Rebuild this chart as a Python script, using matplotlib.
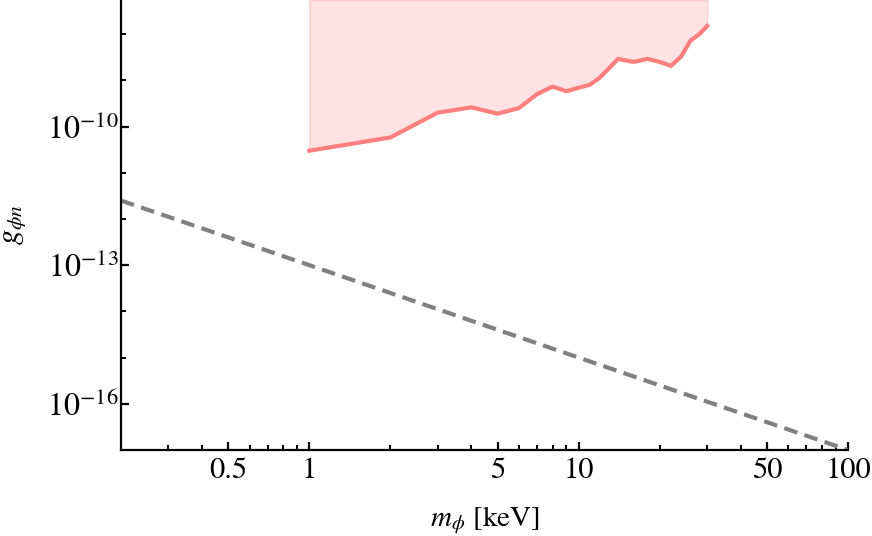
import matplotlib
matplotlib.use("Agg")
import matplotlib.pyplot as plt
import numpy as np
from matplotlib.ticker import FixedLocator, FixedFormatter, NullFormatter

plt.rcParams['font.family'] = ['STIXGeneral', 'DejaVu Serif']
plt.rcParams['mathtext.fontset'] = 'stix'

# Data
limit_m = [1.0, 2.0, 3.0, 4.0, 5.0, 6.0, 7.0, 8.0, 9.0, 10.0, 11.0, 12.0,
           14.0, 16.0, 18.0, 20.0, 22.0, 24.0, 26.0, 28.0, 30.0]
limit_g = [3.0e-11, 5.8e-11, 2.0e-10, 2.6e-10, 1.9e-10, 2.5e-10, 5.0e-10, 7.3e-10,
           5.8e-10, 6.9e-10, 8.0e-10, 1.15e-9, 2.9e-9, 2.5e-9, 2.9e-9, 2.5e-9,
           2.05e-9, 3.25e-9, 7.2e-9, 9.9e-9, 1.5e-8]
dash_m = [0.2, 100.0]
dash_g = [2.5e-12, 1.0e-17]

x_major = [0.5, 1, 5, 10, 50, 100]
x_major_labels = ["0.5", "1", "5", "10", "50", "100"]
y_major = [1e-16, 1e-13, 1e-10]
y_major_labels = [r"$10^{-16}$", r"$10^{-13}$", r"$10^{-10}$"]

xlim = (0.2, 100)
ylim = (1e-17, 10 ** -7.262)

fig = plt.figure(figsize=(8.72, 5.36), dpi=100)
ax = fig.add_axes([121 / 872, 1 - 450 / 536, (848 - 121) / 872, 450 / 536])
ax.set_xscale('log')
ax.set_yscale('log')
ax.set_xlim(*xlim)
ax.set_ylim(*ylim)

ax.fill_between(limit_m, limit_g, ylim[1], facecolor='#FFE2E4', edgecolor='#FFCDD1',
                linewidth=1.0, zorder=1)
ax.plot(limit_m, limit_g, color='#FF7E7E', linewidth=3.0, zorder=3,
        solid_joinstyle='round')
ax.plot(dash_m, dash_g, color='#808080', linewidth=3.0, dashes=(3.3, 1.8), zorder=2)

for s in ['top', 'right']:
    ax.spines[s].set_visible(False)
for s in ['left', 'bottom']:
    ax.spines[s].set_linewidth(1.6)

# x ticks
x_minor = [v * d for d in [0.1, 1, 10] for v in range(2, 10)]
x_minor = [v for v in x_minor if xlim[0] <= v <= xlim[1] and not any(abs(v - M) < 1e-9 for M in x_major)]
ax.xaxis.set_major_locator(FixedLocator(x_major))
ax.xaxis.set_major_formatter(FixedFormatter(x_major_labels))
ax.xaxis.set_minor_locator(FixedLocator(x_minor))
ax.xaxis.set_minor_formatter(NullFormatter())

# y ticks
y_minor = [10.0 ** e for e in range(-17, -7) if e not in (-16, -13, -10)]
ax.yaxis.set_major_locator(FixedLocator(y_major))
ax.yaxis.set_major_formatter(FixedFormatter(y_major_labels))
ax.yaxis.set_minor_locator(FixedLocator(y_minor))
ax.yaxis.set_minor_formatter(NullFormatter())

ax.tick_params(which='major', direction='in', length=6, width=1.6)
ax.tick_params(which='minor', direction='in', length=3.5, width=1.4)
ax.tick_params(axis='x', which='major', pad=5, labelsize=22)
ax.tick_params(axis='y', which='major', pad=2, labelsize=23)

ax.set_xlabel(r"$m_{\phi}$ [keV]", fontsize=21)
ax.set_ylabel(r"$g_{\phi n}$", fontsize=22)
ax.xaxis.set_label_coords(0.5, -0.12)
ax.yaxis.set_label_coords(-0.128, 0.5)

fig.savefig("out.png", dpi=100)
